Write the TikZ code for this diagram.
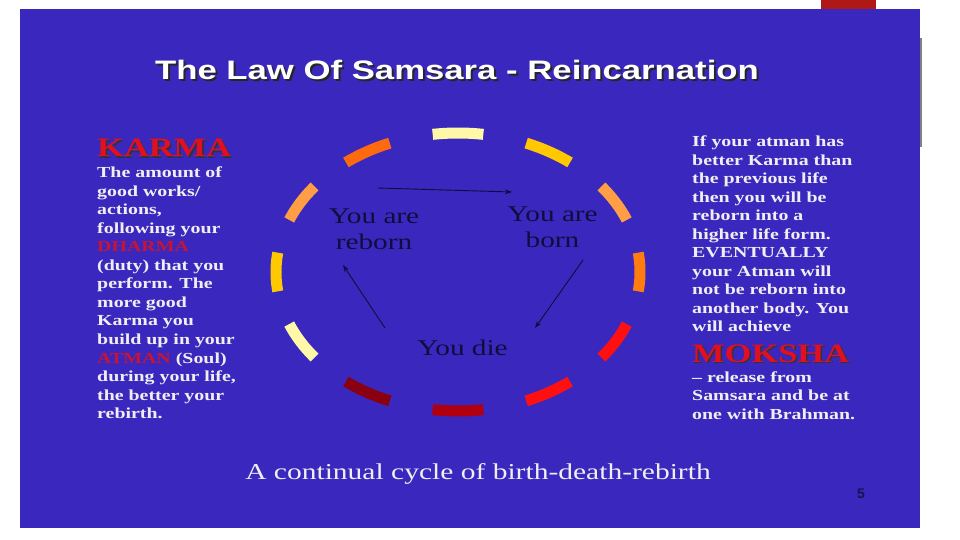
\documentclass[tikz,border=0pt]{standalone}
\usepackage{fontspec}
\setmainfont{Liberation Serif}[FakeStretch=1.3]
\newfontfamily\titlefont{Liberation Sans}[FakeStretch=1.3]
\newfontfamily\numfont{Liberation Sans}
\usetikzlibrary{arrows.meta}
\definecolor{slideblue}{RGB}{58,40,190}
\definecolor{topred}{RGB}{176,24,24}
\definecolor{bodywhite}{RGB}{240,238,240}
\definecolor{wordred}{RGB}{200,20,50}
\definecolor{headred}{RGB}{224,16,32}
\definecolor{labnavy}{RGB}{14,14,58}
\definecolor{numnavy}{RGB}{20,20,80}
\definecolor{paleyel}{RGB}{255,248,168}
\definecolor{gold}{RGB}{255,200,0}
\definecolor{lorange}{RGB}{255,158,68}
\definecolor{orangeA}{RGB}{255,125,16}
\definecolor{orangeB}{RGB}{255,106,16}
\definecolor{brightred}{RGB}{255,16,16}
\definecolor{darkred}{RGB}{176,0,16}
\definecolor{maroon}{RGB}{138,0,16}
\tikzset{
  titlestyle/.style={font=\titlefont\bfseries\fontsize{26.7}{30}\selectfont, anchor=base, inner sep=0pt},
  headstyle/.style={font=\bfseries\fontsize{26.5}{30}\selectfont, anchor=base west, inner sep=0pt},
  body/.style={font=\bfseries\fontsize{15.3}{18.5}\selectfont, text=bodywhite, anchor=base west, inner sep=0pt},
  lab/.style={font=\fontsize{22.5}{26}\selectfont, text=labnavy, align=center, inner sep=0pt},
  arr/.style={draw=labnavy, line width=0.9pt, -{Stealth[length=7pt,width=5pt]}},
  ring/.style={line width=11pt, line cap=butt},
}
\begin{document}
\begin{tikzpicture}[x=1pt,y=-1pt]
\useasboundingbox (0,0) rectangle (960,540);
\fill[white] (0,0) rectangle (960,540);
\fill[slideblue] (20,9) rectangle (920,528);
\fill[topred] (821,0) rectangle (876,9);
\draw[gray, line width=1.5pt] (921,38) -- (921,147);

% title
\node[titlestyle, text=black!85] (titleshadow) at (459,82) {The Law Of Samsara - Reincarnation};
\node[titlestyle, text=white] (title) at (457,80) {The Law Of Samsara - Reincarnation};

% ring of dashes
\foreach \a/\c in {270/paleyel, 300/gold, 330/lorange, 0/orangeA, 30/brightred, 60/brightred,
                   90/darkred, 120/maroon, 150/paleyel, 180/gold, 210/lorange, 240/orangeB}
  \draw[ring, draw=\c] plot[variable=\t, domain={\a-8}:{\a+8}, samples=20] ({458+182*cos(\t)}, {272+139*sin(\t)});

% cycle labels
\node[lab] (reborn) at (374,229) {You are\\reborn};
\node[lab] (born) at (552.5,227) {You are\\born};
\node[lab, anchor=base] (die) at (462.5,355) {You die};

\coordinate (a1s) at (378,188);
\coordinate (a1e) at (512,192);
\coordinate (a2s) at (583,260);
\coordinate (a2e) at (535,328);
\coordinate (a3s) at (385,328);
\coordinate (a3e) at (343,265);
\draw[arr] (a1s) -- (a1e);
\draw[arr] (a2s) -- (a2e);
\draw[arr] (a3s) -- (a3e);

% left column
\node[headstyle, text=black!80] (karmashadow) at (98.5,158.5) {KARMA};
\node[headstyle, text=headred] (karma) at (97,157) {KARMA};
\foreach \s [count=\i from 0] in {{The amount of},{good works/},{actions,},{following your},
   {\color{wordred}DHARMA},{(duty) that you},{perform. The},{more good},{Karma you},
   {build up in your},{{\color{wordred}ATMAN} (Soul)},{during your life,},{the better your},{rebirth.}}
  \node[body] (K\i) at (97,{177.5+18.55*\i}) {\s};

% right column
\foreach \s [count=\i from 0] in {{If your atman has},{better Karma than},{the previous life},
   {then you will be},{reborn into a},{higher life form.},{EVENTUALLY},{your Atman will},
   {not be reborn into},{another body. You},{will achieve}}
  \node[body] (R\i) at (692,{146.5+18.5*\i}) {\s};
\node[headstyle, text=black!80] (mokshashadow) at (693.5,363.5) {MOKSHA};
\node[headstyle, text=headred] (moksha) at (692,362) {MOKSHA};
\foreach \s [count=\i from 0] in {{\textendash\ release from},{Samsara and be at},{one with Brahman.}}
  \node[body] (M\i) at (692,{382.5+18.3*\i}) {\s};

% caption and page number
\node[font=\fontsize{22.7}{26}\selectfont, text=bodywhite, anchor=base, inner sep=0pt] (caption) at (478,479) {A continual cycle of birth-death-rebirth};
\node[font=\numfont\bfseries\fontsize{14}{16}\selectfont, text=numnavy, anchor=base, inner sep=0pt] (pagenum) at (861,498) {5};
\end{tikzpicture}
\end{document}
